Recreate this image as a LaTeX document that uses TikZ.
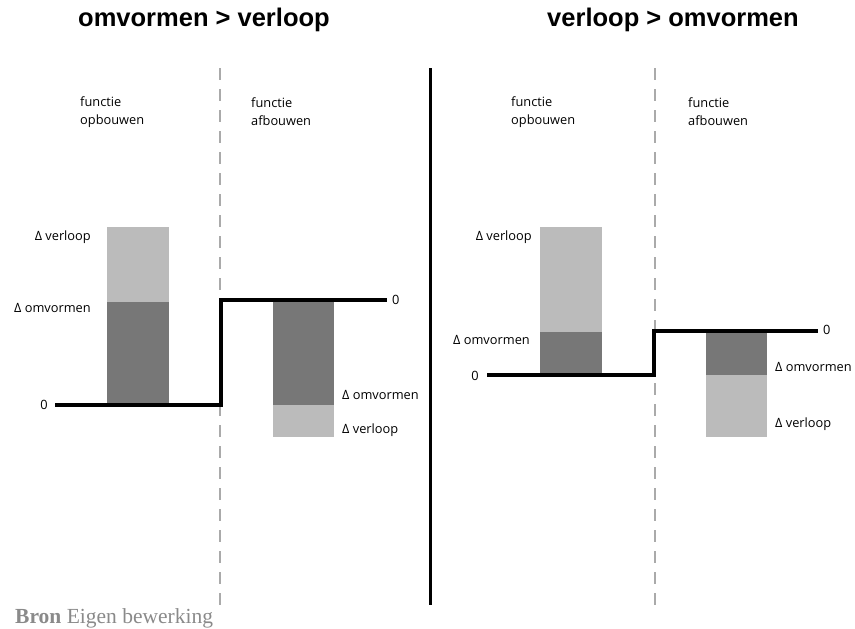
\documentclass[tikz,border=0pt]{standalone}
\usepackage{fontspec}
\setmainfont{Open Sans}
\newfontfamily\titelfont{Liberation Sans}
\newfontfamily\bronfont{Liberation Serif}
\definecolor{licht}{HTML}{BBBBBB}
\definecolor{donker}{HTML}{777777}
\definecolor{streep}{HTML}{AAAAAA}
\definecolor{bron}{HTML}{8A8A8A}
\tikzset{
  titel/.style={font=\titelfont\bfseries\fontsize{25.5}{28}\selectfont, inner sep=0pt},
  lbl/.style={font=\fontsize{12.8}{18}\selectfont, inner sep=0pt, align=left},
  stap/.style={line width=3.5pt, line join=miter},
  scheiding/.style={streep, line width=1.5pt, dash pattern=on 12pt off 9pt},
}
\begin{document}
\begin{tikzpicture}[x=1pt,y=-1pt]
\useasboundingbox (0,0) rectangle (855,629);
% titels
\node[titel] (t1) at (204,20) {omvormen > verloop};
\node[titel] (t2) at (673,20) {verloop > omvormen};
% scheidingslijnen
\draw[scheiding] (220,68) -- (220,610);
\draw[scheiding] (655,68) -- (655,606);
\draw[line width=3pt] (430,68) -- (430,605);
% links: omvormen > verloop
\node[lbl, anchor=west] (f1) at (80,112) {functie\\opbouwen};
\node[lbl, anchor=west] (f2) at (251,112) {functie\\afbouwen};
\fill[licht] (107,227) rectangle (169,302);
\fill[donker] (107,302) rectangle (169,405);
\fill[donker] (273,300) rectangle (334,405);
\fill[licht] (273,405) rectangle (334,437);
\coordinate (a0) at (55,405);
\coordinate (a1) at (221,405);
\coordinate (a2) at (221,300);
\coordinate (a3) at (387,300);
\draw[stap] (a0) -- (a1) -- (a2) -- (a3);
\node[lbl, anchor=east] (n1) at (48,405) {0};
\node[lbl, anchor=west] (n2) at (392,300) {0};
\node[lbl, anchor=east] (v1) at (91,237) {Δ verloop};
\node[lbl, anchor=east] (o1) at (91,308) {Δ omvormen};
\node[lbl, anchor=west] (o2) at (342,395) {Δ omvormen};
\node[lbl, anchor=west] (v2) at (342,430) {Δ verloop};
% rechts: verloop > omvormen
\node[lbl, anchor=west] (f3) at (511,112) {functie\\opbouwen};
\node[lbl, anchor=west] (f4) at (688,112) {functie\\afbouwen};
\fill[licht] (540,227) rectangle (602,332);
\fill[donker] (540,332) rectangle (602,375);
\fill[donker] (706,331) rectangle (767,375);
\fill[licht] (706,375) rectangle (767,437);
\coordinate (b0) at (487,375);
\coordinate (b1) at (654,375);
\coordinate (b2) at (654,331);
\coordinate (b3) at (818,331);
\draw[stap] (b0) -- (b1) -- (b2) -- (b3);
\node[lbl, anchor=east] (n3) at (479,376) {0};
\node[lbl, anchor=west] (n4) at (823,330) {0};
\node[lbl, anchor=east] (v3) at (532,237) {Δ verloop};
\node[lbl, anchor=east] (o3) at (530,340) {Δ omvormen};
\node[lbl, anchor=west] (o4) at (775,367) {Δ omvormen};
\node[lbl, anchor=west] (v4) at (775,424) {Δ verloop};
% bron
\node[anchor=west, inner sep=0pt, text=bron, font=\bronfont\fontsize{21.5}{24}\selectfont] (bron) at (15,618) {\textbf{Bron} Eigen bewerking};
\end{tikzpicture}
\end{document}
